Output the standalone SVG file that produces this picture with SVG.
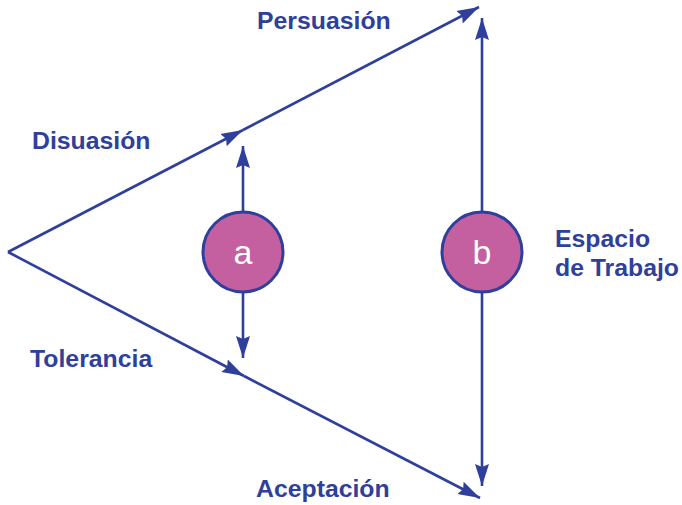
<svg xmlns="http://www.w3.org/2000/svg" width="682" height="505" viewBox="0 0 682 505">
<style>
.ln{stroke:#2E3F9C;stroke-width:2.6;fill:none}
.lbl{font-family:"Liberation Sans",Arial,sans-serif;font-weight:bold;font-size:24.8px;fill:#2E3F9C}
.nd{fill:#C460A0;stroke:#2E3F9C;stroke-width:3}
.nt{font-family:"Liberation Sans",Arial,sans-serif;font-size:34px;fill:#FFFFFF;text-anchor:middle}
</style>
<defs>
<marker id="ah" markerUnits="userSpaceOnUse" markerWidth="26" markerHeight="18" refX="22" refY="8" orient="auto" viewBox="0 0 26 18">
<path d="M0,1 L22,8 L0,15 L3,8 Z" fill="#2E3F9C"/>
</marker>
</defs>
<rect width="682" height="505" fill="#FFFFFF"/>
<g id="connectors">
<line class="ln" x1="8" y1="252" x2="243" y2="130" marker-end="url(#ah)"/>
<line class="ln" x1="243" y1="130" x2="479" y2="7" marker-end="url(#ah)"/>
<line class="ln" x1="8" y1="252" x2="244" y2="376" marker-end="url(#ah)"/>
<line class="ln" x1="244" y1="376" x2="480" y2="498" marker-end="url(#ah)"/>
<line class="ln" x1="243" y1="212" x2="243" y2="146" marker-end="url(#ah)"/>
<line class="ln" x1="243" y1="292" x2="243" y2="358" marker-end="url(#ah)"/>
<line class="ln" x1="482" y1="212" x2="482" y2="18" marker-end="url(#ah)"/>
<line class="ln" x1="482" y1="292" x2="482" y2="486" marker-end="url(#ah)"/>
</g>
<g id="node-a">
<circle class="nd" cx="243" cy="252" r="40"/>
<text class="nt" x="243" y="264">a</text>
</g>
<g id="node-b">
<circle class="nd" cx="482" cy="252" r="40"/>
<text class="nt" x="482" y="264">b</text>
</g>
<g id="labels">
<text class="lbl" x="257" y="29">Persuasión</text>
<text class="lbl" x="32" y="149">Disuasión</text>
<text class="lbl" x="30" y="367">Tolerancia</text>
<text class="lbl" x="256" y="497">Aceptación</text>
<text class="lbl" x="555" y="247">Espacio</text>
<text class="lbl" x="555" y="276">de Trabajo</text>
</g>
</svg>
